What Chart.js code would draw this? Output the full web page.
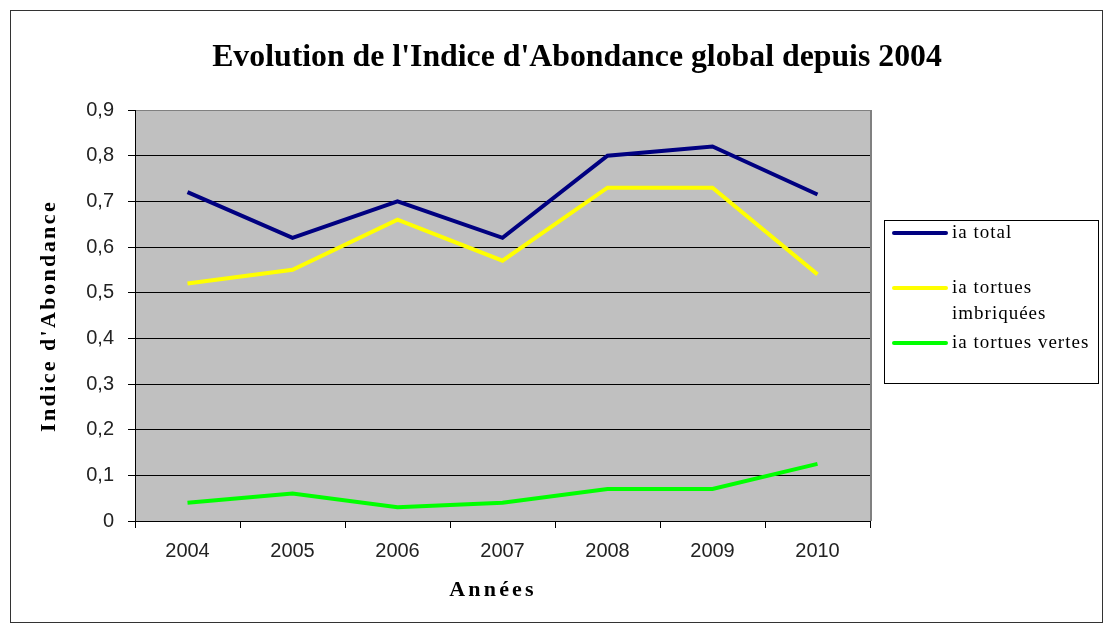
<!DOCTYPE html>
<html>
<head>
<meta charset="utf-8">
<script src="https://cdn.jsdelivr.net/npm/chart.js@4/dist/chart.umd.min.js"></script>
<style>
  body { margin: 0; background: #fff; }
  #wrap { width: 1104px; height: 623px; position: relative; }
</style>
</head>
<body>
<div id="wrap"><canvas id="iaChart"></canvas></div>
<script>
// données
const years = ['2004', '2005', '2006', '2007', '2008', '2009', '2010'];
const iaTotal = [0.72, 0.62, 0.70, 0.62, 0.80, 0.82, 0.715];
const iaImbriquees = [0.52, 0.55, 0.66, 0.57, 0.73, 0.73, 0.54];
const iaVertes = [0.04, 0.06, 0.03, 0.04, 0.07, 0.07, 0.125];
const yMin = 0, yMax = 0.9, yStep = 0.1;

const chartTitle = "Evolution de l'Indice d'Abondance global depuis 2004";
const xTitle = 'Années';
const yTitle = "Indice d'Abondance";

const seriesNames = ['ia total', 'ia tortues imbriquées', 'ia tortues vertes'];
const seriesColors = ['#000080', '#FFFF00', '#00FF00'];

function fmt(v){
  const r = Math.round(v * 10) / 10;
  return r === 0 ? '0' : r.toFixed(1).replace('.', ',');
}

function spacing(ctx, px){
  if ('letterSpacing' in ctx) ctx.letterSpacing = px + 'px';
}

// fond gris, cadre, titres et légende dessinés à la main
const decor = {
  id: 'decor',
  beforeDraw(chart){
    const {ctx, chartArea: a} = chart;
    ctx.save();
    ctx.fillStyle = '#C0C0C0';
    ctx.fillRect(a.left, a.top, a.right - a.left, a.bottom - a.top);
    ctx.strokeStyle = '#808080';
    ctx.lineWidth = 2;
    ctx.beginPath();
    ctx.moveTo(a.right + 1, a.top);
    ctx.lineTo(a.right + 1, a.bottom);
    ctx.stroke();
    ctx.restore();
  },
  afterDraw(chart){
    const {ctx} = chart;
    ctx.save();
    // cadre extérieur
    ctx.strokeStyle = '#333';
    ctx.lineWidth = 1;
    ctx.strokeRect(10.5, 10.5, 1092, 612);

    ctx.fillStyle = '#000';
    ctx.textBaseline = 'middle';
    ctx.textAlign = 'center';

    // titre, ajusté à la largeur de l'original
    ctx.font = 'bold 28px "Liberation Serif"';
    let w = ctx.measureText(chartTitle).width;
    ctx.font = 'bold ' + (28 * 730 / w).toFixed(1) + 'px "Liberation Serif"';
    ctx.fillText(chartTitle, 577, 58);

    // titre axe X
    ctx.font = 'bold 22px "Liberation Serif"';
    spacing(ctx, 3.2);
    ctx.fillText(xTitle, 493, 590);

    // titre axe Y
    spacing(ctx, 2.4);
    ctx.save();
    ctx.translate(49, 316);
    ctx.rotate(-Math.PI / 2);
    ctx.fillText(yTitle, 0, 0);
    ctx.restore();

    // légende
    ctx.strokeStyle = '#000';
    ctx.lineWidth = 1;
    ctx.strokeRect(884.5, 220.5, 214, 163);
    const rows = [[233], [288, 314], [343]];
    const texts = [['ia total'], ['ia tortues', 'imbriquées'], ['ia tortues vertes']];
    ctx.font = '19px "Liberation Serif"';
    spacing(ctx, 1);
    ctx.textAlign = 'left';
    rows.forEach((ys, i) => {
      ctx.strokeStyle = seriesColors[i];
      ctx.lineWidth = 4;
      ctx.lineCap = 'round';
      ctx.beginPath();
      ctx.moveTo(894, ys[0]);
      ctx.lineTo(946, ys[0]);
      ctx.stroke();
      texts[i].forEach((t, j) => ctx.fillText(t, 952, ys[j]));
    });
    spacing(ctx, 0);
    ctx.restore();
  }
};

const ctx = document.getElementById('iaChart').getContext('2d');
new Chart(ctx, {
  type: 'line',
  data: {
    labels: years,
    datasets: [iaTotal, iaImbriquees, iaVertes].map((d, i) => ({
      label: seriesNames[i],
      data: d,
      borderColor: seriesColors[i],
      backgroundColor: seriesColors[i],
      borderWidth: 4,
      pointRadius: 0,
      tension: 0,
      fill: false
    }))
  },
  options: {
    responsive: true,
    maintainAspectRatio: false,
    animation: false,
    layout: { padding: { left: 10, top: 110, right: 234, bottom: 0 } },
    plugins: { legend: { display: false }, title: { display: false }, tooltip: { enabled: false } },
    scales: {
      x: {
        type: 'category',
        offset: true,
        afterFit: (s) => { s.height = 102; },
        grid: { offset: true, drawOnChartArea: false, drawTicks: true, tickLength: 7, color: '#000' },
        border: { display: true, color: '#000', width: 1 },
        ticks: { color: '#222', padding: 11, font: { family: '"Liberation Sans"', size: 20 } }
      },
      y: {
        min: yMin,
        max: yMax,
        afterFit: (s) => { s.width = 125; },
        grid: {
          color: (c) => (c.tick && Math.round(c.tick.value * 10) === 9) ? '#808080' : '#000',
          lineWidth: 1,
          drawTicks: true,
          tickLength: 7,
          tickColor: '#000'
        },
        border: { display: true, color: '#000', width: 1 },
        ticks: {
          stepSize: yStep,
          padding: 14,
          color: '#222',
          font: { family: '"Liberation Sans"', size: 20 },
          callback: (v) => fmt(v)
        }
      }
    }
  },
  plugins: [decor]
});
</script>
</body>
</html>
